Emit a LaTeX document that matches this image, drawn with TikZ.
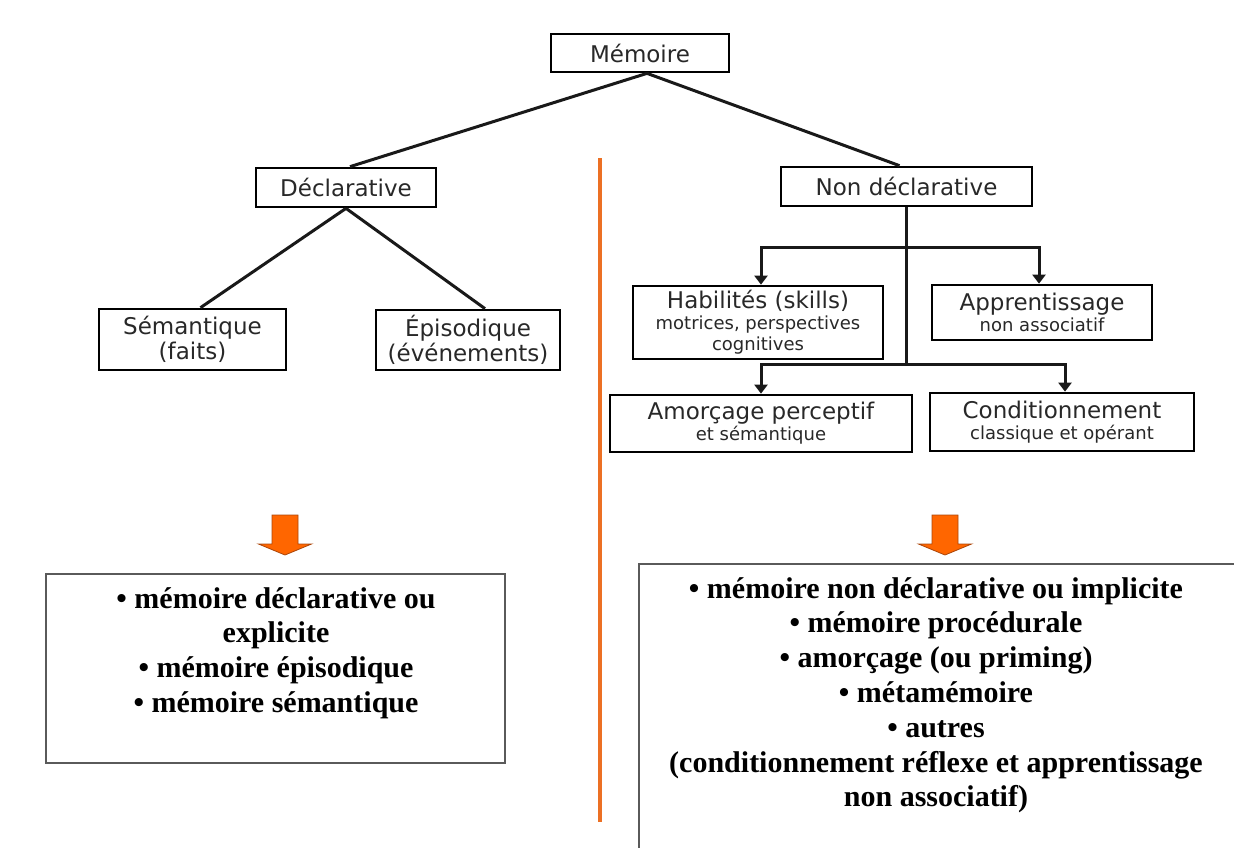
\documentclass[tikz,border=0pt]{standalone}
\usepackage{fontspec}
\setmainfont{Liberation Serif}
\newfontfamily\diagfont{DejaVu Sans}
\usetikzlibrary{arrows.meta}

\definecolor{inkgray}{RGB}{40,40,40}
\definecolor{splitorange}{RGB}{236,112,36}
\definecolor{blockorange}{RGB}{255,102,0}
\definecolor{blockedge}{RGB}{170,70,10}
\definecolor{framegray}{RGB}{90,90,90}

\newcommand{\sublabel}[1]{{\fontsize{18}{21}\selectfont #1}}

\tikzstyle{memnode}=[draw=black,line width=2.7pt,text=inkgray,font=\diagfont\fontsize{23}{25}\selectfont,align=center,inner sep=0pt]
\tikzstyle{twotier}=[font=\diagfont\fontsize{23}{21}\selectfont]
\tikzstyle{link}=[draw=black!90,line width=3pt]
\tikzstyle{branch}=[link,-{Triangle[width=13pt,length=9pt]}]
\tikzstyle{summary}=[draw=framegray,line width=1.6pt,inner sep=0pt]
\tikzstyle{summarytext}=[font=\bfseries\fontsize{30}{34.8}\selectfont,align=center,inner sep=0pt,anchor=north]

\begin{document}
\begin{tikzpicture}[x=1pt,y=-1pt]
        \clip (0,0) rectangle (1234,847);
        %% The tree of memory systems
        \node[memnode,minimum width=178pt,minimum height=38pt] (mem) at (640,53) {Mémoire};
        \node[memnode,minimum width=180pt,minimum height=39pt] (decl) at (346,187.5) {Déclarative};
        \node[memnode,minimum width=251pt,minimum height=39pt] (nondecl) at (906.5,186.5) {Non déclarative};
        \node[memnode,minimum width=187pt,minimum height=61pt] (sem) at (192.5,339.5) {Sémantique\\(faits)};
        \node[memnode,minimum width=184pt,minimum height=60pt] (epi) at (468,340) {Épisodique\\(événements)};
        \node[memnode,twotier,minimum width=250pt,minimum height=73pt] (hab) at (758,322.5) {Habilités (skills)\\\sublabel{motrices, perspectives}\\\sublabel{cognitives}};
        \node[memnode,twotier,minimum width=220pt,minimum height=55pt] (appr) at (1042,312.5) {Apprentissage\\\sublabel{non associatif}};
        \node[memnode,twotier,minimum width=302pt,minimum height=57pt] (amor) at (761,423.5) {Amorçage perceptif\\\sublabel{et sémantique}};
        \node[memnode,twotier,minimum width=264pt,minimum height=58pt] (cond) at (1062,422) {Conditionnement\\\sublabel{classique et opérant}};

        %%% The connecting lines
        \draw[link] ([xshift=7pt]mem.south) -- ([xshift=4pt]decl.north);
        \draw[link] ([xshift=7pt]mem.south) -- ([xshift=-7pt]nondecl.north);
        \draw[link] (decl.south) -- ([xshift=8pt]sem.north);
        \draw[link] (decl.south) -- ([xshift=17pt]epi.north);

        %%% The forks under non declarative
        \coordinate (upfork) at (906.5,247);
        \coordinate (lowfork) at (906.5,364);
        \draw[link] (nondecl.south) -- (lowfork);
        \draw[branch] (upfork) -| ([xshift=3pt]hab.north);
        \draw[branch] (upfork) -| ([xshift=-3pt]appr.north);
        \draw[branch] (lowfork) -| (amor.north);
        \draw[branch] (lowfork) -| ([xshift=3pt]cond.north);

        %% Orange divider and block arrows
        \draw[splitorange,line width=4pt] (600,158) -- (600,822);
        \foreach \cx in {285,945}
        \filldraw[fill=blockorange,draw=blockedge,line width=0.8pt] (\cx-13,515) -- (\cx+13,515) -- (\cx+13,544) -- (\cx+26.5,544) -- (\cx,555) -- (\cx-26.5,544) -- (\cx-13,544) -- cycle;

        %% Summary boxes
        \node[summary,minimum width=459pt,minimum height=189pt] (declsum) at (275.5,668.5) {};
        \node[summarytext] (declsumtext) at (276,587) {• mémoire déclarative ou\\explicite\\• mémoire épisodique\\• mémoire sémantique};
        \node[summary,minimum width=600pt,minimum height=300pt] (nondeclsum) at (939,714) {};
        \node[summarytext] (nondeclsumtext) at (936,577) {• mémoire non déclarative ou implicite\\• mémoire procédurale\\• amorçage (ou priming)\\• métamémoire\\• autres\\(conditionnement réflexe et apprentissage\\non associatif)};
\end{tikzpicture}
\end{document}
